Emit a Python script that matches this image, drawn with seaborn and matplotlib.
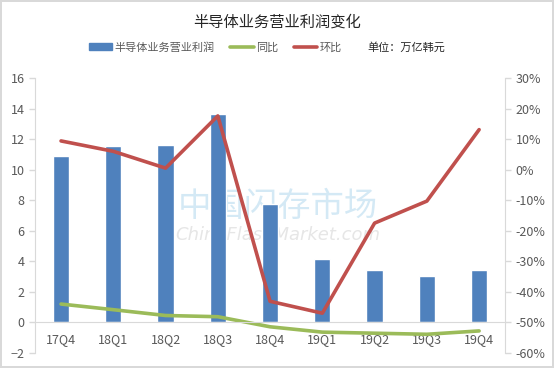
import numpy as np
import pandas as pd
import matplotlib
matplotlib.use("Agg")
import matplotlib.pyplot as plt
import seaborn as sns
from matplotlib.patches import Patch
from matplotlib.lines import Line2D

quarters = ["17Q4", "18Q1", "18Q2", "18Q3", "18Q4", "19Q1", "19Q2", "19Q3", "19Q4"]
profit = [10.9, 11.55, 11.61, 13.65, 7.77, 4.12, 3.40, 3.05, 3.45]
yoy = [1.20, 0.83, 0.45, 0.37, -0.29, -0.64, -0.71, -0.78, -0.56]
qoq = [9.4, 6.0, 0.5, 17.6, -43.1, -47.0, -17.5, -10.3, 13.1]

sns.set_style("white")
plt.rcParams["font.family"] = ["Noto Sans CJK SC", "DejaVu Sans"]

df = pd.DataFrame({"q": quarters, "profit": profit, "yoy": yoy, "qoq": qoq,
                   "pos": np.arange(len(quarters))})

fig = plt.figure(figsize=(5.54, 3.68), dpi=100)
fig.patch.set_edgecolor("#d9d9d9")
fig.patch.set_linewidth(1.5)
ax = fig.add_axes([0.063, 0.041, 0.849, 0.747])

# watermark behind everything
ax.text(4.15, 7.6, "中国闪存市场", fontsize=24, color="#d4e9f5", ha="center", va="center",
        zorder=0)
ax.text(4.15, 5.7, "ChinaFlashMarket.com", fontsize=13, color="#e6e6e6", ha="center",
        va="center", zorder=0, family="DejaVu Sans", style="italic")

sns.barplot(data=df, x="q", y="profit", color="#4F81BD", saturation=1, width=0.31, ax=ax)
sns.lineplot(data=df, x="pos", y="yoy", color="#9BBB59", linewidth=2.6, ax=ax)
ax.set_xlim(-0.5, 8.5)
ax.set_ylim(-2, 16)
ax.set_yticks(range(-2, 17, 2))
ax.set_xlabel("")
ax.set_ylabel("")

ax2 = ax.twinx()
sns.lineplot(data=df, x="pos", y="qoq", color="#C0504D", linewidth=2.6, ax=ax2)
ax2.set_ylim(-60, 30)
ax2.set_yticks(range(-60, 31, 10))
ax2.set_yticklabels([f"{v}%" for v in range(-60, 31, 10)])
ax2.set_ylabel("")

for a in (ax, ax2):
    for s in a.spines.values():
        s.set_visible(False)
    a.tick_params(axis="y", colors="#595959", labelsize=9, length=4, width=1)
ax.spines["left"].set_visible(True)
ax.spines["left"].set_color("#d9d9d9")
ax2.spines["right"].set_visible(True)
ax2.spines["right"].set_color("#d9d9d9")
ax.spines["bottom"].set_visible(True)
ax.spines["bottom"].set_color("#d9d9d9")
ax.spines["bottom"].set_position(("data", 0))
ax.tick_params(axis="y", color="#d9d9d9")
ax2.tick_params(axis="y", color="#d9d9d9")
ax.tick_params(axis="x", colors="#595959", labelsize=9, length=0, pad=8)
ax.set_xticks(range(len(quarters)))
ax.set_xticklabels(quarters)

fig.text(0.5, 0.94, "半导体业务营业利润变化", fontsize=11, ha="center", va="center")
handles = [Patch(color="#4F81BD"), Line2D([], [], color="#9BBB59", lw=2.6),
           Line2D([], [], color="#C0504D", lw=2.6)]
leg = fig.legend(handles, ["半导体业务营业利润", "同比", "环比"], loc="center left",
                 bbox_to_anchor=(89 / 554, 0.872), ncol=3, frameon=False, fontsize=8,
                 handlelength=2.1, handleheight=0.5, columnspacing=1.4, handletextpad=0.2,
                 borderpad=0, borderaxespad=0)
for t in leg.get_texts():
    t.set_color("#595959")
fig.text(367 / 554, 0.872, "单位：万亿韩元", fontsize=8, ha="left", va="center")

fig.savefig("out.png", dpi=100, edgecolor=fig.get_edgecolor())
